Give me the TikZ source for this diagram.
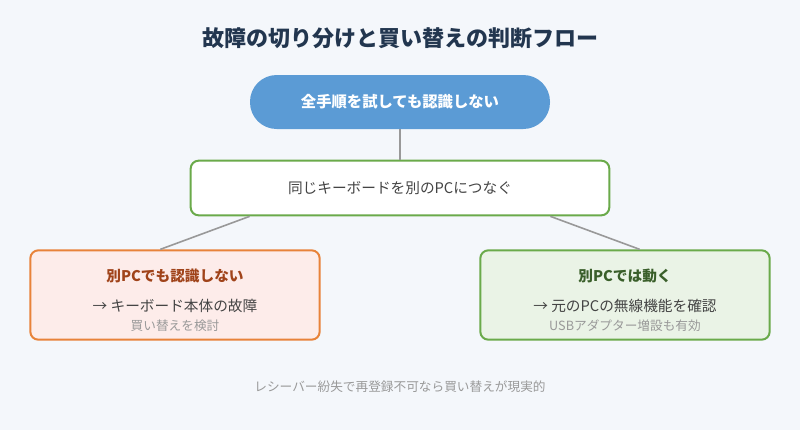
\documentclass[tikz,border=0pt]{standalone}
\usepackage{fontspec}
\setmainfont{Noto Sans CJK JP}
\usepackage{tikz}
\usetikzlibrary{positioning}
\definecolor{bgcol}{HTML}{F4F7FB}
\definecolor{titlecol}{HTML}{22364F}
\definecolor{bluecol}{HTML}{5B9BD5}
\definecolor{greencol}{HTML}{6AAA4A}
\definecolor{orangecol}{HTML}{E8823A}
\definecolor{redfill}{HTML}{FDECEA}
\definecolor{greenfill}{HTML}{EAF3E6}
\definecolor{browncol}{HTML}{A0431A}
\definecolor{darkgreen}{HTML}{3A5F2A}
\definecolor{textcol}{HTML}{444444}
\definecolor{graycol}{HTML}{999999}
\tikzset{
  box/.style={draw, line width=1.5pt, rounded corners=6pt, inner sep=0pt},
  link/.style={draw=graycol, line width=1.2pt},
  main/.style={font=\fontsize{11}{13}\selectfont, text=textcol},
  small/.style={font=\fontsize{9.5}{11}\selectfont, text=graycol}
}
\begin{document}
\begin{tikzpicture}[x=0.75pt,y=0.75pt,yscale=-1,xscale=1]
    \fill[bgcol] (0,0) rectangle (800,430);
    \useasboundingbox (0,0) rectangle (800,430);

    % title
    \node (title) at (400,38) [font=\bfseries\fontsize{16.5}{19}\selectfont, text=titlecol] {故障の切り分けと買い替えの判断フロー};

    % start
    \node (start) at (400,102) [fill=bluecol, rounded corners=20pt, minimum width=225pt, minimum height=40.5pt, text=white, font=\bfseries\fontsize{11.5}{13}\selectfont] {全手順を試しても認識しない};
    % check
    \node (check) at (400,188) [box, draw=greencol, fill=white, minimum width=314pt, minimum height=41pt, main] {同じキーボードを別のPCにつなぐ};

    % results
    \node (broken) at (175,295) [box, draw=orangecol, fill=redfill, minimum width=217pt, minimum height=67pt] {};
    \node (bt) at (175,276) [font=\bfseries\fontsize{11}{13}\selectfont, text=browncol] {別PCでも認識しない};
    \node (bm) at (175,306) [main] {→ キーボード本体の故障};
    \node (bs) at (175,326) [small] {買い替えを検討};

    \node (works) at (625,295) [box, draw=greencol, fill=greenfill, minimum width=217pt, minimum height=67pt] {};
    \node (wt) at (625,276) [font=\bfseries\fontsize{11}{13}\selectfont, text=darkgreen] {別PCでは動く};
    \node (wm) at (625,306) [main] {→ 元のPCの無線機能を確認};
    \node (ws) at (625,326) [small] {USBアダプター増設も有効};

    % connectors
    \draw[link] (start) -- (check);
    \draw[link] ([xshift=45pt]check.south west) -- ([xshift=-11pt]broken.north);
    \draw[link] ([xshift=-45pt]check.south east) -- ([xshift=11pt]works.north);

    % note
    \node (note) at (400,387) [small] {レシーバー紛失で再登録不可なら買い替えが現実的};
\end{tikzpicture}
\end{document}
